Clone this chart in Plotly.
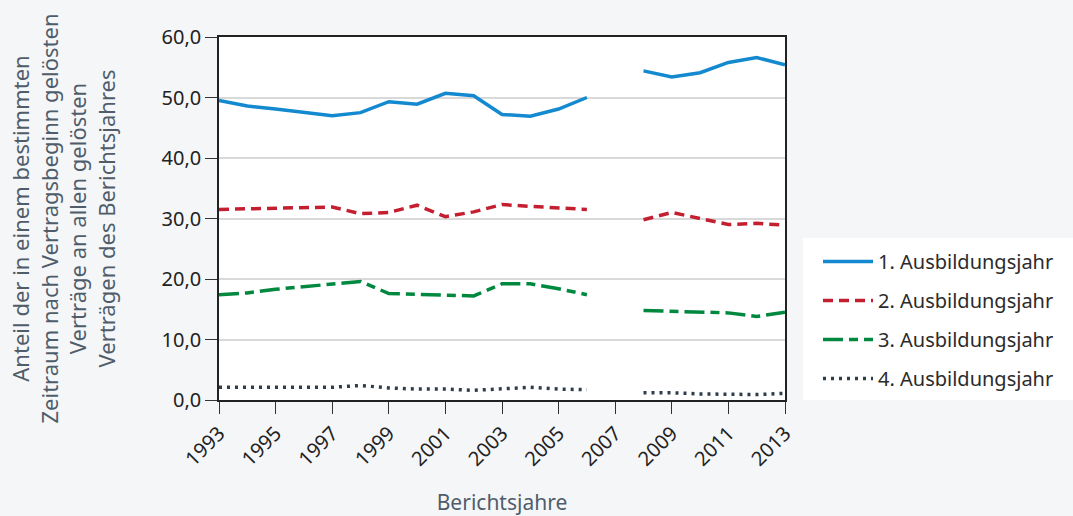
import plotly.graph_objects as go

years = list(range(1993, 2014))
jahr1 = [49.5, 48.6, 48.1, 47.5, 47.0, 47.5, 49.3, 48.9, 50.7, 50.3, 47.2, 46.9, 48.1, 50.0, None,
         54.4, 53.4, 54.1, 55.8, 56.6, 55.4]
jahr2 = [31.5, 31.6, 31.7, 31.8, 31.9, 30.8, 31.0, 32.2, 30.3, 31.1, 32.3, 32.0, 31.7, 31.5, None,
         29.8, 31.0, 30.0, 29.0, 29.2, 28.9]
jahr3 = [17.4, 17.7, 18.3, 18.7, 19.1, 19.6, 17.6, 17.5, 17.4, 17.2, 19.2, 19.2, 18.4, 17.4, None,
         14.8, 14.7, 14.6, 14.4, 13.8, 14.5]
jahr4 = [2.1, 2.1, 2.1, 2.1, 2.1, 2.4, 2.0, 1.8, 1.8, 1.6, 1.9, 2.1, 1.8, 1.7, None,
         1.2, 1.2, 1.0, 0.9, 0.9, 1.1]
names = ["1. Ausbildungsjahr", "2. Ausbildungsjahr", "3. Ausbildungsjahr", "4. Ausbildungsjahr"]
x_ticks = list(range(1993, 2014, 2))
y_ticks = [0, 10, 20, 30, 40, 50, 60]

colors = ["#1389cf", "#c41f30", "#00883f", "#2e3d4c"]
dashes = ["solid", "10px,6px", "20px,6px,9px,6px", "3px,5px"]

fig = go.Figure()
for i, (vals, name, c, d) in enumerate(zip([jahr1, jahr2, jahr3, jahr4], names, colors, dashes)):
    fig.add_trace(go.Scatter(x=years, y=vals, name=name, mode="lines",
                             legendgroup=f"g{i}",
                             line=dict(color=c, width=3.5, dash=d),
                             connectgaps=False))

# white panel behind legend
fig.add_shape(type="rect", xref="paper", yref="paper",
              x0=(803 - 219) / 566, x1=(1080 - 219) / 566,
              y0=0, y1=(400 - 238) / 363,
              fillcolor="#ffffff", line=dict(width=0), layer="below")

axis_title_color = "#4f5d6b"
fig.update_layout(
    width=1073, height=516,
    paper_bgcolor="#f5f6f8", plot_bgcolor="#ffffff",
    margin=dict(l=219, r=288, t=37, b=116),
    font=dict(family="Noto Sans", size=20, color="#222222"),
    separators=",.",
    showlegend=True,
    legend=dict(x=(818 - 219) / 566, y=(400 - 320) / 363, xanchor="left", yanchor="middle",
                bgcolor="rgba(0,0,0,0)", font=dict(size=20, color="#2b2b2b"),
                tracegroupgap=10, itemwidth=50, borderwidth=0),
    xaxis=dict(range=[1993, 2013], tickvals=x_ticks, tickangle=-45, automargin=False,
               ticks="outside", ticklen=12, tickcolor="#333", tickwidth=1.2,
               showline=True, linecolor="#222", linewidth=1.5, mirror=True,
               showgrid=False, zeroline=False,
               title=dict(text="Berichtsjahre", font=dict(size=21, color=axis_title_color), standoff=26)),
    yaxis=dict(range=[0, 60], tickvals=y_ticks, tickformat=".1f", automargin=False,
               ticks="outside", ticklen=12, tickcolor="#333", tickwidth=1.2,
               showline=True, linecolor="#222", linewidth=1.5, mirror=True,
               showgrid=True, gridcolor="#d9d9d9", gridwidth=1.5, zeroline=False,
               title=dict(text="Anteil der in einem bestimmten<br>Zeitraum nach Vertragsbeginn gelösten<br>Verträge an allen gelösten<br>Verträgen des Berichtsjahres",
                          font=dict(size=22, color=axis_title_color), standoff=40)),
)

fig.write_html("out.html", config={"displayModeBar": False},
               post_script="document.body.style.margin='0';")
